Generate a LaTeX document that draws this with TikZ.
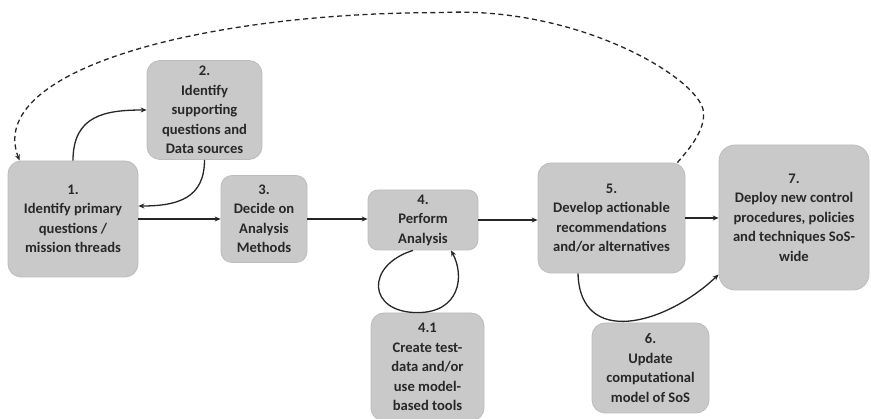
\documentclass[tikz,border=0pt]{standalone}
\usepackage{fontspec}
\setmainfont{Carlito}
\usetikzlibrary{arrows.meta}
\definecolor{boxgray}{RGB}{201,201,201}
\definecolor{boxedge}{RGB}{188,188,188}
\definecolor{inkgray}{RGB}{40,40,40}
\begin{document}
\begin{tikzpicture}[x=1pt,y=-1pt,
  stepbox/.style={draw=boxedge,line width=0.8pt,fill=boxgray,rounded corners=13pt,
    align=center,inner sep=0pt,text=inkgray,
    font=\fontsize{14.6}{19.5}\selectfont\bfseries},
  flow/.style={line width=1.3pt,draw=black!85,-{Stealth[length=6pt,width=5pt]}},
  feedback/.style={flow,dashed,dash pattern=on 5pt off 3.5pt}]
\useasboundingbox (0,0) rectangle (871,419);

% process steps
\node[stepbox,minimum width=130pt,minimum height=116pt] (b1) at (73,219)
  {1.\\Identify primary\\questions /\\mission threads};
\node[stepbox,minimum width=115pt,minimum height=99pt] (b2) at (204.5,110)
  {2.\\Identify\\supporting\\questions and\\Data sources};
\node[stepbox,minimum width=86pt,minimum height=87pt,rounded corners=11pt] (b3) at (264,219)
  {3.\\Decide on\\Analysis\\Methods};
\node[stepbox,minimum width=110pt,minimum height=60pt,rounded corners=10pt] (b4) at (423,220)
  {4.\\Perform\\Analysis};
\node[stepbox,minimum width=113pt,minimum height=108pt] (b41) at (427.5,367)
  {4.1\\Create test-\\data and/or\\use model-\\based tools};
\node[stepbox,minimum width=147pt,minimum height=110pt] (b5) at (611.5,218)
  {5.\\Develop actionable\\recommendations\\and/or alternatives};
\node[stepbox,minimum width=117pt,minimum height=90pt] (b6) at (650.5,368)
  {6.\\Update\\computational\\model of SoS};
\node[stepbox,minimum width=150pt,minimum height=145pt,rounded corners=16pt] (b7) at (794,217.5)
  {7.\\Deploy new control\\procedures, policies\\and techniques SoS-\\wide};

% main flow
\draw[flow] (b1.east) -- (b1.east -| b3.west);
\draw[flow] (b3.east) -- (b3.east -| b4.west);
\draw[flow] (b4.east) -- (b4.east -| b5.west);
\draw[flow] (b5.east) -- (b5.east -| b7.west);

% step 1 <-> step 2
\draw[flow] (b1.north) .. controls +(0,-45) and +(-42,0) .. (b2.west);
\draw[flow] (b2.south) .. controls +(0,38) and +(40,0) .. ([yshift=13pt]b1.east);

% step 4 <-> step 4.1 loop
\draw[flow] ([xshift=-10pt]b4.south) .. controls +(-48,15) and +(-50,0)
  .. ([xshift=-10pt]b41.north) .. controls +(42,0) and +(14,26)
  .. ([xshift=28pt]b4.south);

% step 5 -> step 7 by way of step 6
\draw[flow] ([xshift=-33.5pt]b5.south) .. controls +(2,74) and +(-54,51)
  .. ([yshift=-57pt]b7.west);

% feedback from step 5 back to step 1
\draw[feedback] ([xshift=-8pt]b5.north east) .. controls +(13,-15) and +(2,18)
  .. ++(26,-51) .. controls +(-3,-32) and +(140,-7)
  .. ++(-263,-99) .. controls +(-240,0) and +(-35,-90)
  .. ([xshift=12pt]b1.north west);
\end{tikzpicture}
\end{document}
